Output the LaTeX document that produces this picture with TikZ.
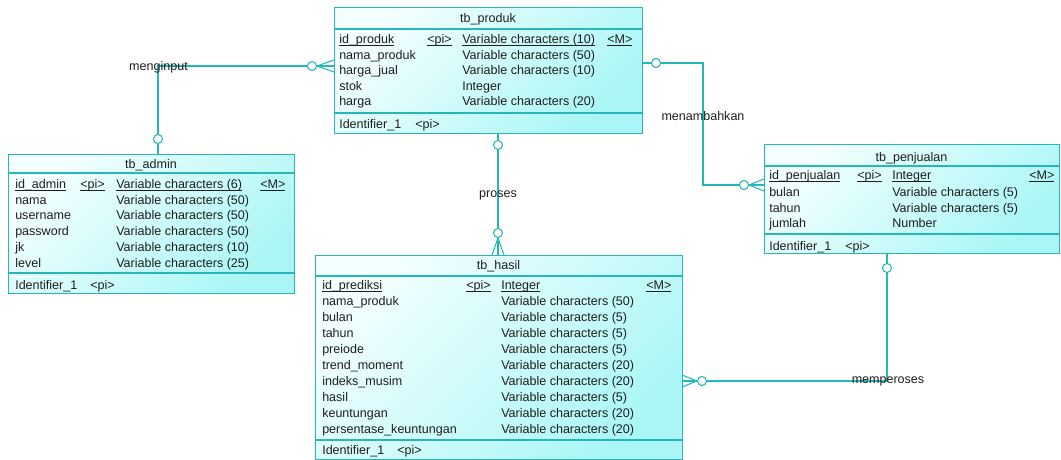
\documentclass[tikz,border=0pt]{standalone}
\usepackage{fontspec}
\setmainfont{Liberation Sans}
\definecolor{lnc}{RGB}{38,184,184}
\definecolor{fillA}{RGB}{244,255,255}
\definecolor{fillB}{RGB}{170,246,246}
\definecolor{txtc}{RGB}{30,30,30}
\def\u{0.75pt}
\newcommand{\fs}{\fontsize{9.4}{11}\selectfont}
\newcommand{\ul}[1]{\setbox0\hbox{#1}\rlap{\vrule width\wd0 height -1.1pt depth 1.7pt}\box0}

\begin{document}
\begin{tikzpicture}[x=0.75pt,y=-0.75pt,
  tbl/.style={draw=lnc,line width=0.8pt,top color=fillA,bottom color=fillB,shading angle=45,anchor=north west,inner sep=0},
  sep/.style={draw=lnc,line width=0.8pt},
  txt/.style={anchor=base west,inner sep=0,font=\fs,text=txtc},
  ttl/.style={anchor=base,inner sep=0,font=\fs,text=txtc},
  rel/.style={draw=lnc,line width=0.8pt},
  opt/.style={draw=lnc,line width=0.8pt,fill=white},
  lbl/.style={inner sep=0,font=\fs,text=txtc}]
\useasboundingbox (0,0) rectangle (1061,460);

% tb_produk
\node[tbl,minimum width=308*\u,minimum height=126*\u] (produk) at (334,7) {};
\draw[sep] (produk.west |- 0,29) -- (produk.east |- 0,29);
\draw[sep] (produk.west |- 0,113) -- (produk.east |- 0,113);
\node[ttl] at (488,22.5) {tb\_produk};
\node[txt] at (339,44) {\ul{id\_produk}};
\node[txt] at (427,44) {\ul{<pi>}};
\node[txt] at (462,44) {\ul{Variable characters (10)}};
\node[txt] at (607,44) {\ul{<M>}};
\foreach \yy/\na/\ty in {59.5/nama\_produk/Variable characters (50),
  75/harga\_jual/Variable characters (10),90.5/stok/Integer,106/harga/Variable characters (20)}{
  \node[txt] at (339,\yy) {\na};
  \node[txt] at (462,\yy) {\ty};
}
\node[txt] at (339,128.5) {Identifier\_1};
\node[txt] at (415,128.5) {<pi>};

% tb_admin
\node[tbl,minimum width=286*\u,minimum height=139*\u] (admin) at (8,154) {};
\draw[sep] (admin.west |- 0,173) -- (admin.east |- 0,173);
\draw[sep] (admin.west |- 0,273) -- (admin.east |- 0,273);
\node[ttl] at (151,168.5) {tb\_admin};
\node[txt] at (15,188.5) {\ul{id\_admin}};
\node[txt] at (80,188.5) {\ul{<pi>}};
\node[txt] at (116,188.5) {\ul{Variable characters (6)}};
\node[txt] at (260,188.5) {\ul{<M>}};
\foreach \yy/\na/\ty in {204/nama/Variable characters (50),219.5/username/Variable characters (50),
  235.5/password/Variable characters (50),251.5/jk/Variable characters (10),267.5/level/Variable characters (25)}{
  \node[txt] at (15,\yy) {\na};
  \node[txt] at (116,\yy) {\ty};
}
\node[txt] at (15,289.5) {Identifier\_1};
\node[txt] at (90,289.5) {<pi>};

% tb_penjualan
\node[tbl,minimum width=295*\u,minimum height=109*\u] (penjualan) at (764,144) {};
\draw[sep] (penjualan.west |- 0,166) -- (penjualan.east |- 0,166);
\draw[sep] (penjualan.west |- 0,234) -- (penjualan.east |- 0,234);
\node[ttl] at (911.5,161.5) {tb\_penjualan};
\node[txt] at (769,179.5) {\ul{id\_penjualan}};
\node[txt] at (857,179.5) {\ul{<pi>}};
\node[txt] at (892,179.5) {\ul{Integer}};
\node[txt] at (1029,179.5) {\ul{<M>}};
\foreach \yy/\na/\ty in {196/bulan/Variable characters (5),212/tahun/Variable characters (5),227.5/jumlah/Number}{
  \node[txt] at (769,\yy) {\na};
  \node[txt] at (892,\yy) {\ty};
}
\node[txt] at (769,250.5) {Identifier\_1};
\node[txt] at (845,250.5) {<pi>};

% tb_hasil
\node[tbl,minimum width=367*\u,minimum height=204*\u] (hasil) at (315,255) {};
\draw[sep] (hasil.west |- 0,276) -- (hasil.east |- 0,276);
\draw[sep] (hasil.west |- 0,440) -- (hasil.east |- 0,440);
\node[ttl] at (498.5,269.5) {tb\_hasil};
\node[txt] at (322,289.5) {\ul{id\_prediksi}};
\node[txt] at (466,289.5) {\ul{<pi>}};
\node[txt] at (501,289.5) {\ul{Integer}};
\node[txt] at (646,289.5) {\ul{<M>}};
\foreach \yy/\na/\ty in {305.5/nama\_produk/Variable characters (50),321.5/bulan/Variable characters (5),
  337.5/tahun/Variable characters (5),353.5/preiode/Variable characters (5),
  369.5/trend\_moment/Variable characters (20),385.5/indeks\_musim/Variable characters (20),
  401.5/hasil/Variable characters (5),417.5/keuntungan/Variable characters (20),
  433.5/persentase\_keuntungan/Variable characters (20)}{
  \node[txt] at (322,\yy) {\na};
  \node[txt] at (501,\yy) {\ty};
}
\node[txt] at (322,454.5) {Identifier\_1};
\node[txt] at (397,454.5) {<pi>};

% menginput
\coordinate (bend1) at (158,66);
\draw[rel] (admin.north -| bend1) -- (bend1) -- (produk.west |- bend1);
\draw[rel] (317,66) -- (334,60) (317,66) -- (334,72);
\draw[opt] (312,66) circle[radius=4.5];
\draw[opt] (158,139) circle[radius=4.5];
\node[lbl] at (158.5,67) {menginput};

% menambahkan
\coordinate (bend2) at (703,63);
\coordinate (bend3) at (703,185);
\draw[rel] (produk.east |- bend2) -- (bend2) -- (bend3) -- (penjualan.west |- bend3);
\draw[rel] (749,185) -- (764,179) (749,185) -- (764,191);
\draw[opt] (656,63) circle[radius=4.5];
\draw[opt] (744,185) circle[radius=4.5];
\node[lbl] at (703,116) {menambahkan};

% proses
\coordinate (mid1) at (498,195);
\draw[rel] (produk.south -| mid1) -- (hasil.north -| mid1);
\draw[rel] (498,238) -- (492,255) (498,238) -- (504,255);
\draw[opt] (498,145) circle[radius=4.5];
\draw[opt] (498,233) circle[radius=4.5];
\node[lbl] at (mid1) {proses};

% memperoses
\coordinate (bend4) at (887,381);
\draw[rel] (penjualan.south -| bend4) -- (bend4) -- (hasil.east |- bend4);
\draw[rel] (697,381) -- (682,375) (697,381) -- (682,387);
\draw[opt] (887,268) circle[radius=4.5];
\draw[opt] (702,381) circle[radius=4.5];
\node[lbl] at (888,381) {memperoses};

\end{tikzpicture}
\end{document}
